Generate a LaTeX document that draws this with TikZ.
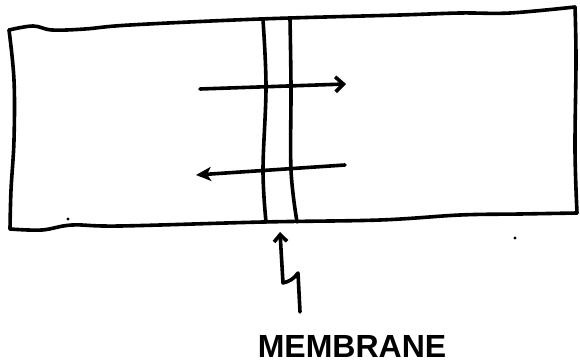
\documentclass[tikz,border=0pt]{standalone}
\usepackage{fontspec}
\setsansfont{Liberation Sans}
\usetikzlibrary{calc, positioning, arrows.meta}

\begin{document}
\begin{tikzpicture}[x=1pt, y=-1pt, >=Stealth, line cap=round, line join=round]
    \tikzset{
        pen/.style={line width=3.6pt},
        flux arrow/.style={pen, -{Straight Barb[length=8pt, width=15pt, line width=3.6pt]}},
        back arrow/.style={pen, -{Stealth[length=15pt, width=14pt, inset=4pt]}}
    }
    \useasboundingbox (0,0) rectangle (580,363);

    % corners of the vessel
    \coordinate (TL) at (9,30);
    \coordinate (TR) at (575,7);
    \coordinate (BR) at (577,213);
    \coordinate (BL) at (10,229);

    \draw[pen] plot[smooth, tension=0.6] coordinates
        {(TL) (33,26) (52,30) (85,29) (130,25) (260,19) (400,15) (460,13) (510,13) (TR)};
    \draw[pen] plot[smooth, tension=0.6] coordinates
        {(TL) (14,80) (14,140) (11,190) (BL)};
    \draw[pen] plot[smooth, tension=0.6] coordinates
        {(BL) (42,230) (72,225) (120,226) (263,222) (380,220) (460,215) (520,214) (BR)};
    \draw[pen] plot[smooth, tension=0.6] coordinates
        {(TR) (576,60) (575,150) (BR)};

    % membrane
    \coordinate (M1t) at (263,20);
    \coordinate (M1b) at (266,222);
    \coordinate (M2t) at (290,19);
    \coordinate (M2b) at (297,222);
    \draw[pen] plot[smooth, tension=0.6] coordinates {(M1t) (266,87) (263,170) (M1b)};
    \draw[pen] plot[smooth, tension=0.6] coordinates {(M2t) (291,87) (291,170) (M2b)};

    % transport across
    \coordinate (A1) at (200,89);
    \coordinate (A2) at (346,84);
    \coordinate (B1) at (345,165);
    \coordinate (B2) at (196,175);
    \draw[flux arrow] (A1) -- (A2);
    \draw[back arrow] (B1) -- (B2);

    % label with wiggly pointer
    \node[font=\sffamily\bfseries\fontsize{32}{32}\selectfont, inner sep=0pt] (label) at (352,346) {MEMBRANE};
    \coordinate (P0) at (300,312);
    \coordinate (P1) at (298,273);
    \coordinate (P2) at (283,283);
    \coordinate (P3) at (280,232);
    \draw[pen, -{Straight Barb[length=7pt, width=13pt, line width=3.6pt]}]
        (P0) -- (P1) to[bend left=20] (P2) -- (P3);

    % specks
    \fill (68,219) circle (1.6);
    \fill (515,238) circle (1.6);
\end{tikzpicture}
\end{document}
